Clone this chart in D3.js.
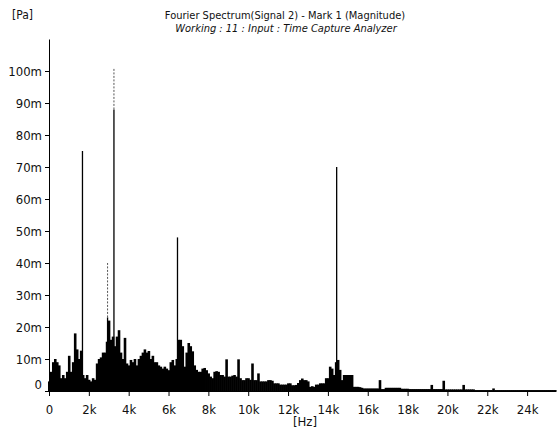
<!DOCTYPE html>
<html>
<head>
<meta charset="utf-8">
<script src="https://cdn.jsdelivr.net/npm/d3@7"></script>
<style>
  body { margin: 0; background: #fff; }
  svg text { font-family: "Liberation Sans Narrow", "DejaVu Sans Condensed", sans-serif; fill: #111; }
  .axis path, .axis line { stroke: #000; }
</style>
</head>
<body>
<div id="chart"></div>
<script>
// Broadband magnitude [mPa], one value per 100 Hz bin starting at 0 Hz
const binWidthHz = 100;
const broadband = [
  3, 6, 9, 10, 9, 8, 4, 5, 4, 6,
  11, 6, 9, 18, 13, 10, 12.6, 5, 4, 5,
  3.5, 3, 4, 3.5, 8.6, 10, 10.5, 12, 12, 15.4,
  22, 16, 17, 14, 17, 19, 12, 10, 16.6, 8.6,
  8, 9.7, 9, 10, 8, 10, 11, 12, 13, 12,
  12.5, 10, 11, 9, 9, 8, 7.6, 7, 7.6, 7,
  6.5, 9, 9.7, 8, 10, 16, 16, 14, 7.6, 12,
  15, 14, 12.4, 8, 6.6, 6, 6, 7, 7.2, 6.5,
  5.5, 4.5, 4, 6, 6.2, 6, 5, 5, 4.5, 9.9,
  4.5, 4.5, 4.8, 5, 4.5, 9.9, 4, 3.4, 3.4, 4,
  4, 3.5, 8.6, 3.4, 3.4, 5.5, 3, 3, 3, 3,
  3.4, 3.4, 3.2, 2.4, 2.4, 2.4, 2, 2, 2, 2,
  2.4, 2.4, 1.8, 1.8, 1.9, 2.5, 3.4, 3.9, 3.4, 3.4,
  3, 1.3, 1.5, 1.3, 2, 2, 2.4, 2.4, 2.4, 4,
  4, 7.6, 7, 5, 9, 9.7, 6.6, 3.4, 5, 5,
  5, 5, 5, 1.3, 1.3, 1.3, 1.2, 1, 0.8, 0.8,
  0.8, 0.8, 0.8, 0.8, 0.8, 0.8, 3.4, 0.6, 0.6, 1,
  1, 1, 1, 1, 1, 1, 1, 0.7, 0.7, 0.7,
  0.7, 0.6, 0.6, 0.6, 0.6, 0.6, 0.6, 0.6, 0.6, 0.6,
  0.6, 0.6, 1.9, 0.6, 0.6, 0.6, 0.6, 0.6, 3.2, 0.5,
  0.5, 0.5, 0.5, 0.5, 0.5, 0.5, 0.5, 0.5, 1.9, 0.5,
  0.5, 0.5, 0.5, 0.5, 0.3, 0.3, 0.3, 0.3, 0.3, 0.3,
  0.3, 0.3, 0.3, 0.8, 0.3, 0.3, 0.3, 0.3, 0.3, 0.3,
  0.3, 0.3, 0.3, 0.3, 0.3, 0.3, 0.3, 0.3, 0.3, 0.3,
  0.3, 0.3, 0.3, 0.3, 0.3, 0.3, 0.3, 0.3, 0.3, 0.3,
  0.3, 0.3, 0.3, 0.3, 0.3
];

// Tonal peaks: frequency [Hz], solid level and dotted maximum [mPa]
const toneFreqs = [1680, 2940, 3260, 6450, 14440];
const toneSolid = [75, 23, 88, 48, 70];
const toneMax = [75, 40, 101, 48, 70];

const xTickValues = [0, 2000, 4000, 6000, 8000, 10000, 12000, 14000, 16000, 18000, 20000, 22000, 24000];
const xTickLabels = ["0", "2k", "4k", "6k", "8k", "10k", "12k", "14k", "16k", "18k", "20k", "22k", "24k"];
const yTickValues = [0, 10, 20, 30, 40, 50, 60, 70, 80, 90, 100];
const yTickLabels = ["0", "10m", "20m", "30m", "40m", "50m", "60m", "70m", "80m", "90m", "100m"];

const titleLines = ["Fourier Spectrum(Signal 2) - Mark 1 (Magnitude)", "Working : 11 : Input : Time Capture Analyzer"];

const width = 559, height = 431;
const svg = d3.select("#chart").append("svg").attr("width", width).attr("height", height);

const x = d3.scaleLinear().domain([0, 25450]).range([49, 556]);
const y = d3.scaleLinear().domain([0, 110]).range([391, 39]);

// Broadband mass as adjacent thin bars (slight overlap to avoid seams)
const binPx = x(binWidthHz) - x(0);
svg.append("g")
  .selectAll("rect")
  .data(broadband)
  .join("rect")
  .attr("x", (d, i) => x(i * binWidthHz) - binPx / 2)
  .attr("width", binPx + 0.6)
  .attr("y", (d) => y(d))
  .attr("height", (d) => y(0) - y(d))
  .attr("fill", "#000");

// Tonal lines
const tones = toneFreqs.map((f, i) => ({ f, solid: toneSolid[i], max: toneMax[i] }));
svg.append("g")
  .selectAll("line")
  .data(tones)
  .join("line")
  .attr("x1", (d) => x(d.f)).attr("x2", (d) => x(d.f))
  .attr("y1", y(0)).attr("y2", (d) => y(d.solid))
  .attr("stroke", "#000").attr("stroke-width", 1.3);
svg.append("g")
  .selectAll("line")
  .data(tones.filter((d) => d.max > d.solid))
  .join("line")
  .attr("x1", (d) => x(d.f)).attr("x2", (d) => x(d.f))
  .attr("y1", (d) => y(d.solid)).attr("y2", (d) => y(d.max))
  .attr("stroke", "#555").attr("stroke-width", 1).attr("stroke-dasharray", "2,1.5");

// Axes
const xAxis = d3.axisBottom(x)
  .tickValues(xTickValues)
  .tickFormat((d, i) => xTickLabels[i])
  .tickSize(5).tickSizeOuter(0).tickPadding(9);
const xg = svg.append("g").attr("class", "axis").attr("transform", `translate(0,${y(0)})`).call(xAxis);
xg.selectAll("text").style("font-size", "13px");

const yAxis = d3.axisLeft(y)
  .tickValues(yTickValues)
  .tickFormat((d, i) => yTickLabels[i])
  .tickSize(4).tickSizeOuter(0).tickPadding(3);
const yg = svg.append("g").attr("class", "axis").attr("transform", `translate(${x(0)},0)`).call(yAxis);
yg.selectAll("text").style("font-size", "13px");
yg.selectAll(".tick").filter((d) => d === 0).select("text").attr("dy", "-0.2em");

// Titles and units
svg.append("text").attr("x", 12).attr("y", 19).style("font-size", "12px").text("[Pa]");
svg.append("text").attr("x", 285).attr("y", 19).attr("text-anchor", "middle").style("font-size", "11px").text(titleLines[0]);
svg.append("text").attr("x", 286).attr("y", 32).attr("text-anchor", "middle").style("font-size", "11px").style("font-style", "italic").text(titleLines[1]);
svg.append("text").attr("x", 305).attr("y", 426).attr("text-anchor", "middle").style("font-size", "13px").text("[Hz]");
</script>
</body>
</html>
